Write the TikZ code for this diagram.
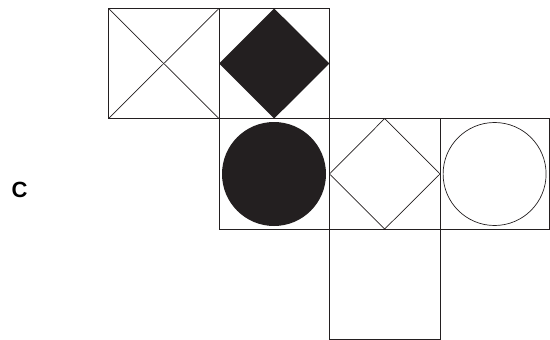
\documentclass[tikz,border=0pt]{standalone}
\usepackage{fontspec}
\setmainfont{Liberation Sans}
\definecolor{ink}{HTML}{231F20}
\begin{document}
\begin{tikzpicture}[x=1pt,y=-1pt,
  cell/.style={draw=ink,line width=0.8pt},
  thin/.style={draw=ink,line width=0.7pt}]
\useasboundingbox (0,0) rectangle (550,340);
% squares
\draw[cell] (108.5,8.5) rectangle (219,118.5);
\draw[cell] (219,8.5) rectangle (329.5,118.5);
\draw[cell] (219,118.5) rectangle (329.5,229);
\draw[cell] (329.5,118.5) rectangle (440,229);
\draw[cell] (440,118.5) rectangle (549,229);
\draw[cell] (329.5,229) rectangle (440,339);
% cross
\draw[thin] (108.5,8.5) -- (219,118.5);
\draw[thin] (219,8.5) -- (108.5,118.5);
% filled diamond
\fill[ink] (219,63.5) -- (274.2,8.5) -- (329.5,63.5) -- (274.2,118.5) -- cycle;
% filled circle
\fill[ink] (274,174) circle (52);
% outline diamond
\draw[thin] (329.5,174) -- (384.7,118.5) -- (440,174) -- (384.7,229) -- cycle;
% outline circle
\draw[thin] (494.6,174) circle (51.5);
% label
\node[inner sep=0pt,text=black] (c) at (19.5,190) {\fontsize{22}{26}\selectfont\bfseries C};
\end{tikzpicture}
\end{document}
